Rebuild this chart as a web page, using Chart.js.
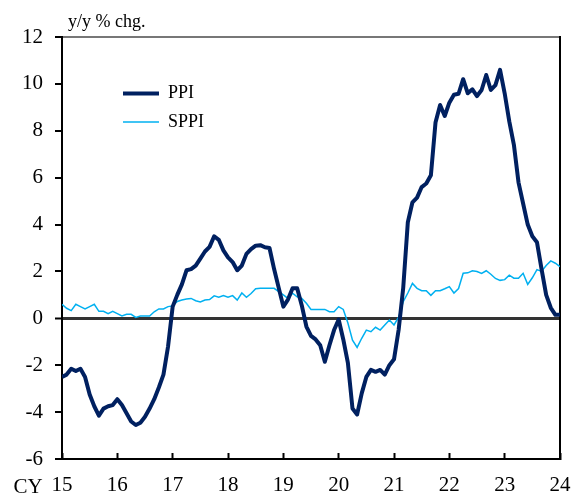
<!DOCTYPE html>
<html>
<head>
<meta charset="utf-8">
<script src="https://cdn.jsdelivr.net/npm/chart.js@4/dist/chart.umd.min.js"></script>
<style>
  html, body { margin: 0; padding: 0; background: #ffffff; }
  #wrap { width: 579px; height: 498px; }
</style>
</head>
<body>
<div id="wrap"><canvas id="c" width="579" height="498"></canvas></div>
<script>
// ---- data (monthly, Jan 2015 .. Jan 2024), y/y % change ----
const categories = [];
for (let yr = 2015; yr <= 2024; yr++) {
  for (let mo = 1; mo <= 12; mo++) {
    if (yr === 2024 && mo > 1) break;
    categories.push(yr + '-' + String(mo).padStart(2, '0'));
  }
}

const ppi = [
  -2.5, -2.4, -2.15, -2.25, -2.15, -2.5, -3.25, -3.75, -4.15, -3.85, -3.75, -3.7,   // 2015
  -3.45, -3.7, -4.05, -4.4, -4.55, -4.45, -4.2, -3.85, -3.45, -2.95, -2.4, -1.2,    // 2016
  0.5, 1.0, 1.45, 2.05, 2.1, 2.25, 2.55, 2.85, 3.05, 3.5, 3.35, 2.9,                // 2017
  2.6, 2.4, 2.05, 2.25, 2.75, 2.95, 3.1, 3.12, 3.03, 3.0, 2.1, 1.3,                 // 2018
  0.5, 0.8, 1.28, 1.28, 0.55, -0.35, -0.75, -0.9, -1.15, -1.85, -1.15, -0.5,        // 2019
  -0.05, -0.9, -1.9, -3.85, -4.1, -3.2, -2.5, -2.2, -2.28, -2.2, -2.4, -2.0,        // 2020
  -1.75, -0.5, 1.3, 4.1, 4.95, 5.15, 5.6, 5.75, 6.1, 8.35, 9.1, 8.63,               // 2021
  9.2, 9.54, 9.58, 10.2, 9.6, 9.77, 9.48, 9.74, 10.38, 9.74, 9.95, 10.6,            // 2022
  9.6, 8.4, 7.4, 5.8, 4.9, 4.0, 3.5, 3.25, 2.1, 1.0, 0.45, 0.15,                    // 2023
  0.15                                                                              // 2024
];

const sppi = [
  0.6, 0.43, 0.33, 0.6, 0.5, 0.4, 0.5, 0.6, 0.3, 0.3, 0.2, 0.3,                     // 2015
  0.2, 0.1, 0.17, 0.17, 0.04, 0.1, 0.1, 0.1, 0.28, 0.4, 0.4, 0.5,                   // 2016
  0.53, 0.72, 0.78, 0.82, 0.85, 0.75, 0.7, 0.78, 0.8, 0.96, 0.9, 0.97,              // 2017
  0.9, 0.97, 0.78, 1.08, 0.9, 1.06, 1.26, 1.28, 1.28, 1.28, 1.28, 1.14,             // 2018
  1.0, 0.85, 1.07, 0.92, 0.85, 0.64, 0.38, 0.38, 0.38, 0.38, 0.28, 0.28,            // 2019
  0.5, 0.38, -0.2, -0.93, -1.24, -0.85, -0.5, -0.57, -0.38, -0.5, -0.28, -0.07,     // 2020
  -0.28, 0.05, 0.71, 1.08, 1.49, 1.28, 1.18, 1.18, 0.98, 1.18, 1.18, 1.26,          // 2021
  1.35, 1.08, 1.27, 1.92, 1.94, 2.03, 2.0, 1.92, 2.03, 1.88, 1.7, 1.62,             // 2022
  1.65, 1.84, 1.71, 1.71, 1.92, 1.45, 1.73, 2.08, 2.0, 2.25, 2.45, 2.35,            // 2023
  2.2                                                                               // 2024
];

const seriesNames = ['PPI', 'SPPI'];
const yTicks = [-6, -4, -2, 0, 2, 4, 6, 8, 10, 12];
const xTickLabels = ['15', '16', '17', '18', '19', '20', '21', '22', '23', '24'];
const yUnitText = 'y/y % chg.';
const xPrefixText = 'CY';

// ---- styles ----
const SERIF = "'Liberation Serif', 'Times New Roman', Times, serif";
const toPoints = arr => arr.map((v, i) => ({ x: i, y: v }));
const janIndex = categories.map((c, i) => (c.endsWith('-01') ? i : -1)).filter(i => i >= 0);

const extraPlugin = {
  id: 'extraText',
  afterLayout(chart) {
    const lg = chart.legend;
    const ca = chart.chartArea;
    if (lg) {
      lg.left = ca.left + 50.5;
      lg.top = ca.top + 37;
      lg.width = 170;
      lg.height = 100;
      lg.right = lg.left + lg.width;
      lg.bottom = lg.top + lg.height;
    }
  },
  afterDraw(chart) {
    const ctx = chart.ctx;
    const xs = chart.scales.x;
    const ys = chart.scales.y;
    ctx.save();
    ctx.fillStyle = '#000000';
    ctx.textAlign = 'left';
    ctx.textBaseline = 'alphabetic';
    ctx.font = '18px ' + SERIF;
    ctx.fillText(yUnitText, ys.right + 6, ys.top - 10.5);
    ctx.font = '21px ' + SERIF;
    ctx.fillText(xPrefixText, xs.left - 48.5, xs.top + 34);
    ctx.restore();
  }
};

new Chart(document.getElementById('c'), {
  type: 'line',
  data: {
    datasets: [
      {
        label: seriesNames[0],
        data: toPoints(ppi),
        borderColor: '#002060',
        backgroundColor: '#002060',
        borderWidth: 4,
        borderJoinStyle: 'round',
        pointRadius: 0,
        pointHoverRadius: 0,
        pointStyle: 'line',
        tension: 0,
        fill: false
      },
      {
        label: seriesNames[1],
        data: toPoints(sppi),
        borderColor: '#00B0F0',
        backgroundColor: '#00B0F0',
        borderWidth: 1.5,
        pointRadius: 0,
        pointHoverRadius: 0,
        pointStyle: 'line',
        tension: 0,
        fill: false
      }
    ]
  },
  options: {
    responsive: false,
    devicePixelRatio: 1,
    animation: false,
    events: [],
    layout: { padding: { top: 37, right: 19, bottom: 0, left: 0 } },
    plugins: {
      tooltip: { enabled: false },
      title: { display: false },
      legend: {
        display: true,
        position: 'chartArea',
        align: 'start',
        labels: {
          usePointStyle: true,
          pointStyle: 'line',
          pointStyleWidth: 36,
          font: { family: SERIF, size: 18 },
          color: '#000000',
          padding: 10.5
        }
      }
    },
    scales: {
      x: {
        type: 'linear',
        position: 'bottom',
        min: 0,
        max: categories.length - 1,
        afterBuildTicks: s => { s.ticks = janIndex.map(v => ({ value: v })); },
        ticks: {
          autoSkip: false,
          maxRotation: 0,
          minRotation: 0,
          padding: 20,
          color: '#000000',
          font: { family: SERIF, size: 21 },
          callback: (v, i) => xTickLabels[i]
        },
        grid: {
          display: true,
          drawOnChartArea: false,
          drawTicks: true,
          tickLength: -6,
          tickColor: '#000000',
          tickWidth: 2
        },
        border: { display: true, color: '#000000', width: 2 },
        afterFit: s => { s.height = 39; s.paddingLeft = 0; s.paddingRight = 0; }
      },
      xTop: {
        type: 'linear',
        position: 'top',
        min: 0,
        max: categories.length - 1,
        ticks: { display: false },
        grid: { display: true, drawOnChartArea: false, drawTicks: false },
        border: { display: true, color: '#777777', width: 2 },
        afterFit: s => { s.height = 0; s.paddingLeft = 0; s.paddingRight = 0; }
      },
      y: {
        type: 'linear',
        position: 'left',
        min: yTicks[0],
        max: yTicks[yTicks.length - 1],
        afterBuildTicks: s => { s.ticks = yTicks.map(v => ({ value: v })); },
        ticks: {
          padding: 12,
          color: '#000000',
          font: { family: SERIF, size: 21 }
        },
        grid: {
          display: true,
          drawOnChartArea: true,
          color: c => (c.tick && c.tick.value === 0 ? '#333333' : 'rgba(0,0,0,0)'),
          lineWidth: c => (c.tick && c.tick.value === 0 ? 3 : 0),
          drawTicks: true,
          tickLength: 7,
          tickColor: '#000000',
          tickWidth: 2
        },
        border: { display: true, color: '#000000', width: 2 },
        afterFit: s => { s.width = 62; }
      },
      yRight: {
        type: 'linear',
        position: 'right',
        min: yTicks[0],
        max: yTicks[yTicks.length - 1],
        ticks: { display: false },
        grid: { display: true, drawOnChartArea: false, drawTicks: false },
        border: { display: true, color: '#000000', width: 2 },
        afterFit: s => { s.width = 0; }
      }
    }
  },
  plugins: [extraPlugin]
});
</script>
</body>
</html>
